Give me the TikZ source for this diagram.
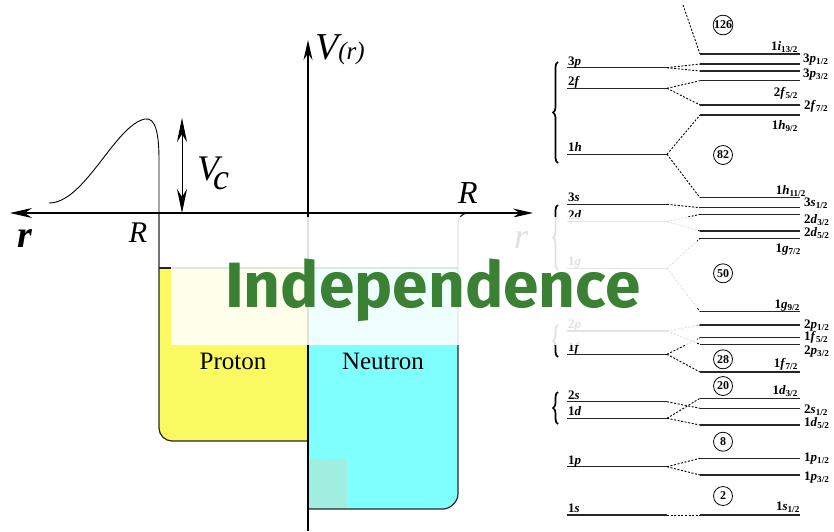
\documentclass[tikz,border=0pt]{standalone}
\usepackage{fontspec}
\setmainfont{Liberation Serif}
\newfontfamily\titlefont{Fira Sans}
\usetikzlibrary{arrows.meta,decorations.pathreplacing}

\definecolor{protonfill}{RGB}{249,249,98}
\definecolor{neutronfill}{RGB}{128,255,255}
\definecolor{tealpatch}{RGB}{160,238,224}
\definecolor{titlegreen}{RGB}{59,129,51}

\newcommand{\jsub}[1]{\textsubscript{#1/2}}

\tikzset{
  wall/.style={line width=1.2pt, black!85},
  axisline/.style={line width=1.2pt},
  shellline/.style={line width=1.1pt, black!85},
  splitline/.style={line width=0.9pt, dash pattern=on 2pt off 1.6pt},
  magic/.style={circle, draw, line width=0.8pt, minimum size=19pt, inner sep=0pt, font=\fontsize{12}{12}\selectfont\bfseries},
  lab/.style={inner sep=0pt, font=\fontsize{13}{13}\selectfont\bfseries},
  shellbrace/.style={decorate, decoration={brace, amplitude=5pt}, line width=1.7pt},
  bigit/.style={inner sep=0pt, font=\fontsize{#1}{#1}\selectfont\itshape},
}

\begin{document}
\begin{tikzpicture}[x=1pt,y=-1pt]
  \useasboundingbox (0,0) rectangle (834,531);

  % Wells
  \fill[protonfill] (159,268) -- (159,428) .. controls (159,435) and (165,441) .. (172,441) -- (308,441) -- (308,268) -- cycle;
  \fill[neutronfill] (308,268) -- (308,509) -- (443,509) .. controls (450,509) and (458,502) .. (458,494) -- (458,268) -- cycle;
  \fill[tealpatch] (308,459) rectangle (347,509);

  % Well outlines
  \draw[wall] (159,268) -- (458,268);
  \draw[wall] (159,213) -- (159,428) .. controls (159,435) and (165,441) .. (172,441) -- (308,441);
  \draw[wall] (468,213) .. controls (462,213) and (458,218) .. (458,224) -- (458,494) .. controls (458,502) and (450,509) .. (443,509) -- (308,509);

  % Coulomb barrier
  \draw[line width=0.9pt] (49,203) .. controls (85,203) and (115,125) .. (145,119) .. controls (156,117) and (159,135) .. (159,160) -- (159,213);

  % Axes
  \coordinate (r tip) at (10,213);
  \coordinate (R tip) at (533,213);
  \coordinate (V base) at (308,531);
  \coordinate (V tip) at (308,40);
  \draw[axisline, {Stealth[length=22pt,width=10pt]}-{Stealth[length=20pt,width=9pt]}] (r tip) -- (R tip);
  \draw[axisline, -{Stealth[length=20pt,width=9pt]}] (V base) -- (V tip);

  % Coulomb height
  \coordinate (Vc top) at (182,118);
  \coordinate (Vc bot) at (182,213);
  \draw[line width=1pt, {Stealth[length=24pt,width=10pt]}-{Stealth[length=24pt,width=10pt]}] (Vc top) -- (Vc bot);

  % Axis labels
  \node[bigit=38] (r left) at (25,239) {\bfseries r};
  \node[bigit=30] (R left) at (138,233) {R};
  \node[bigit=32] (R right) at (468,193) {R};
  \node[bigit=36] (r right) at (521,240) {r};
  \node[bigit=38, anchor=west] (V label) at (315,50) {V\fontsize{25}{25}\selectfont(r)};
  \node[bigit=36] (Vc label) at (213,173) {V\kern-6pt\raisebox{-9pt}{c}};
  \node[font=\fontsize{25}{25}\selectfont] (proton) at (233,361) {Proton};
  \node[font=\fontsize{25}{25}\selectfont] (neutron) at (383,361) {Neutron};

  % Oscillator shells (left)
  \foreach \n/\y/\t in {3p/67.7/3\textit{p}, 2f/88.3/2\textit{f}, 1h/154.3/1\textit{h},
      3s/204.3/3\textit{s}, 2d/221.7/2\textit{d}, 1g/268.3/1\textit{g},
      2p/331/2\textit{p}, 1f/354.3/1\textit{f}, 2s/401.7/2\textit{s},
      1d/418.3/1\textit{d}, 1p/466.7/1\textit{p}, 1s/515/1\textit{s}}
  {
    \coordinate (L\n a) at (567,\y);
    \coordinate (L\n) at (667,\y);
    \draw[shellline] (L\n a) -- (L\n);
    \node[lab, anchor=base west] (tL\n) at (568,\y-2.5) {\t};
  }

  % Spin-orbit levels (right)
  \foreach \n/\y/\t/\lx/\ly/\a in {
      i13/54/1\textit{i}\jsub{13}/798/47/east, p31/64/3\textit{p}\jsub{1}/803/60/west,
      p33/71/3\textit{p}\jsub{3}/803/75/west, f25/80.7/2\textit{f}\jsub{5}/798/93/east,
      f27/105/2\textit{f}\jsub{7}/804/106/west, h9/115/1\textit{h}\jsub{9}/798/126/east,
      h11/197.7/1\textit{h}\jsub{11}/806/191/east, s31/207.7/3\textit{s}\jsub{1}/804/203/west,
      d23/214.3/2\textit{d}\jsub{3}/804/220/west, d25/231/2\textit{d}\jsub{5}/804/233/west,
      g7/238.3/1\textit{g}\jsub{7}/801/250/east, g9/311.7/1\textit{g}\jsub{9}/800/306/east,
      p21/325/2\textit{p}\jsub{1}/804/326/west, f5/337.7/1\textit{f}\jsub{5}/804/337/west,
      p23/344.3/2\textit{p}\jsub{3}/804/352/west, f7/372/1\textit{f}\jsub{7}/798/364/east,
      d3/398.3/1\textit{d}\jsub{3}/798/391/east, s21/408.3/2\textit{s}\jsub{1}/804/410/west,
      d5/425/1\textit{d}\jsub{5}/804/423/west, p1/458.3/1\textit{p}\jsub{1}/804/459/west,
      p3/475/1\textit{p}\jsub{3}/804/478/west, s1/515/1\textit{s}\jsub{1}/800/507/east}
  {
    \coordinate (\n) at (700,\y);
    \coordinate (\n b) at (800,\y);
    \draw[shellline] (\n) -- (\n b);
    \node[lab, anchor=\a] (t\n) at (\lx,\ly) {\t};
  }

  % Splitting
  \foreach \a/\b in {L3p/p31, L3p/p33, L2f/f25, L2f/f27, L1h/h9, L1h/h11,
      L3s/s31, L2d/d23, L2d/d25, L1g/g7, L1g/g9, L2p/p21, L2p/p23,
      L1f/f5, L1f/f7, L2s/s21, L1d/d3, L1d/d5, L1p/p1, L1p/p3, L1s/s1}
    \draw[splitline] (\a) -- (\b);
  \coordinate (i top) at (683,5);
  \draw[splitline] (i top) -- (i13);

  % Magic numbers
  \foreach \m/\y in {126/25, 82/155, 50/273.3, 28/359.3, 20/386, 8/441.7, 2/496}
    \node[magic] (m\m) at (723,\y) {\m};

  % Shell braces
  \foreach \top/\bot in {62/163, 205/270, 325/357, 392/424}
    \draw[shellbrace] (558,\bot) -- (558,\top);

  % Title over a faded band
  \fill[white, opacity=0.88] (171,216.5) rectangle (697,345);
  \node[anchor=base west, inner sep=0pt, text=titlegreen, font=\titlefont\bfseries\fontsize{64}{64}\selectfont] (title) at (225,307) {Independence};
\end{tikzpicture}
\end{document}
